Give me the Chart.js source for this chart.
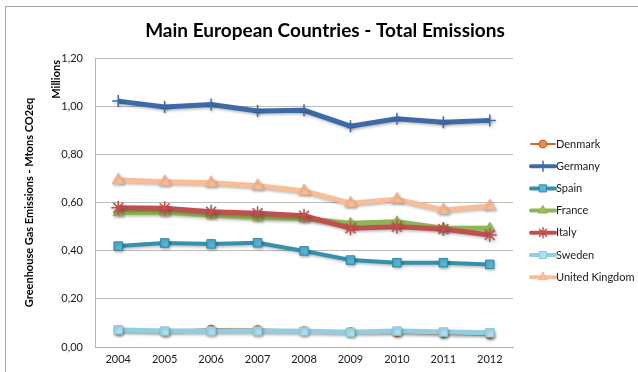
<!DOCTYPE html>
<html>
<head>
<meta charset="utf-8">
<script src="https://cdn.jsdelivr.net/npm/chart.js@4/dist/chart.umd.min.js"></script>
<style>
  html, body { margin: 0; padding: 0; background: #fff; }
  #wrap { width: 638px; height: 372px; position: relative; }
</style>
</head>
<body>
<div id="wrap"><canvas id="chart" width="638" height="372"></canvas></div>
<script>
// ==================== DATA ====================
const years = ['2004', '2005', '2006', '2007', '2008', '2009', '2010', '2011', '2012'];
const denmark = [0.068, 0.064, 0.075, 0.073, 0.068, 0.064, 0.060, 0.055, 0.051];
const germany = [1.021, 0.997, 1.007, 0.980, 0.983, 0.917, 0.948, 0.933, 0.941];
const spain = [0.419, 0.432, 0.428, 0.433, 0.399, 0.361, 0.350, 0.350, 0.343];
const france = [0.558, 0.559, 0.548, 0.538, 0.534, 0.514, 0.520, 0.493, 0.493];
const italy = [0.578, 0.576, 0.562, 0.555, 0.545, 0.493, 0.499, 0.490, 0.465];
const sweden = [0.071, 0.066, 0.066, 0.066, 0.065, 0.061, 0.066, 0.062, 0.059];
const uk = [0.693, 0.686, 0.682, 0.670, 0.648, 0.597, 0.613, 0.569, 0.585];
const yTicks = [0, 0.2, 0.4, 0.6, 0.8, 1.0, 1.2];

const FONT = 'Lato, "Open Sans", sans-serif';
const TITLE = 'Main European Countries - Total Emissions';

// one entry per series, same order as the legend
const series = [
  { label: 'Denmark', data: denmark, line: '#c46a2c', width: 2, point: 'circle', r: 4, fill: '#f08c48', edge: '#b45f22' },
  { label: 'Germany', data: germany, line: '#3e6ba8', width: 5, point: 'cross', r: 6, fill: '#3e6ba8', edge: '#3e6ba8' },
  { label: 'Spain', data: spain, line: '#3590aa', width: 4, point: 'rect', r: 6, fill: '#56b6d4', edge: '#2f88a3' },
  { label: 'France', data: france, line: '#8eb655', width: 5, point: 'triangle', r: 6, fill: '#9bc05a', edge: '#8eb655' },
  { label: 'Italy', data: italy, line: '#c0504d', width: 5, point: 'star', r: 7, fill: '#c0504d', edge: '#c0504d' },
  { label: 'Sweden', data: sweden, line: '#93cde0', width: 5, point: 'rect', r: 6, fill: '#aee0f1', edge: '#8cc6da' },
  { label: 'United Kingdom', data: uk, line: '#f9bd98', width: 5, point: 'triangle', r: 7, fill: '#fbbf98', edge: '#f7b38a' },
];

// outer frame, title, "Millions" note and the line+marker legend
const decorations = {
  id: 'decorations',
  beforeDraw(chart) {
    const ctx = chart.ctx;
    ctx.save();
    ctx.strokeStyle = '#a6a6a6';
    ctx.lineWidth = 1;
    ctx.strokeRect(5.5, 6.5, 700, 500);
    ctx.restore();
  },
  beforeDatasetsDraw(chart) {
    const ctx = chart.ctx;
    ctx.save();
    ctx.shadowColor = 'rgba(0,0,0,0.28)';
    ctx.shadowBlur = 3;
    ctx.shadowOffsetX = 1;
    ctx.shadowOffsetY = 1.5;
  },
  afterDatasetsDraw(chart) {
    chart.ctx.restore();
  },
  afterDraw(chart) {
    const ctx = chart.ctx;
    const area = chart.chartArea;

    ctx.save();
    ctx.fillStyle = '#000';
    ctx.font = 'bold 19px ' + FONT;
    ctx.textAlign = 'center';
    ctx.textBaseline = 'middle';
    ctx.fillText(TITLE, 325, 31);
    ctx.restore();

    ctx.save();
    ctx.fillStyle = '#000';
    ctx.font = 'bold 11px ' + FONT;
    ctx.translate(56, area.top + 2);
    ctx.rotate(-Math.PI / 2);
    ctx.textAlign = 'right';
    ctx.textBaseline = 'middle';
    ctx.fillText('Millions', 0, 0);
    ctx.restore();

    const x0 = 531, x1 = 555, top = 144, step = 22.2;
    chart.data.datasets.forEach((ds, i) => {
      const y = top + i * step;
      const marker = {
        pointStyle: ds.pointStyle,
        radius: Math.min(ds.pointRadius, 5),
        borderWidth: ds.pointBorderWidth,
        rotation: 0,
      };
      ctx.save();
      ctx.strokeStyle = ds.borderColor;
      ctx.lineWidth = Math.min(ds.borderWidth, 4);
      ctx.lineCap = 'round';
      ctx.beginPath();
      ctx.moveTo(x0, y);
      ctx.lineTo(x1, y);
      ctx.stroke();
      ctx.fillStyle = ds.pointBackgroundColor;
      ctx.strokeStyle = ds.pointBorderColor;
      ctx.lineWidth = ds.pointBorderWidth;
      Chart.helpers.drawPoint(ctx, marker, (x0 + x1) / 2, y);
      ctx.fillStyle = '#1a1a1a';
      ctx.font = '11px ' + FONT;
      ctx.textAlign = 'left';
      ctx.textBaseline = 'middle';
      ctx.fillText(ds.label, x1 + 1, y);
      ctx.restore();
    });
  },
};

const ctx = document.getElementById('chart').getContext('2d');
new Chart(ctx, {
  type: 'line',
  data: {
    labels: years,
    datasets: series.map((s, i) => ({
      label: s.label,
      data: s.data,
      borderColor: s.line,
      borderWidth: s.width,
      pointStyle: s.point,
      pointRadius: s.r,
      pointBackgroundColor: s.fill,
      pointBorderColor: s.edge,
      pointBorderWidth: s.point === 'cross' || s.point === 'star' ? 1.5 : 1,
      tension: 0,
      fill: false,
      order: series.length - i,
    })),
  },
  options: {
    responsive: false,
    animation: false,
    events: [],
    layout: { padding: { left: 10, right: 125, top: 58, bottom: 0 } },
    plugins: {
      legend: { display: false },
      tooltip: { enabled: false },
      title: { display: false },
    },
    scales: {
      x: {
        offset: true,
        grid: { display: false, drawTicks: false },
        border: { color: '#b3b3b3', width: 1 },
        ticks: { color: '#1a1a1a', font: { family: FONT, size: 11 }, padding: 6, maxRotation: 0, autoSkip: false },
        afterFit: (s) => { s.height = 25; },
      },
      y: {
        min: 0,
        max: 1.2,
        afterBuildTicks: (s) => { s.ticks = yTicks.map((v) => ({ value: v })); },
        grid: { color: '#bcbcbc', drawTicks: false },
        border: { color: '#b3b3b3', width: 1 },
        ticks: {
          color: '#1a1a1a',
          font: { family: FONT, size: 11 },
          padding: 12,
          callback: (v) => v.toFixed(2).replace('.', ','),
        },
        title: {
          display: true,
          text: 'Greenhouse Gas Emissions - Mtons CO2eq',
          color: '#000',
          font: { family: FONT, size: 11, weight: 'bold' },
          padding: { top: 13, bottom: 0 },
        },
        afterFit: (s) => { s.width = 85; },
      },
    },
  },
  plugins: [decorations],
});
</script>
</body>
</html>
